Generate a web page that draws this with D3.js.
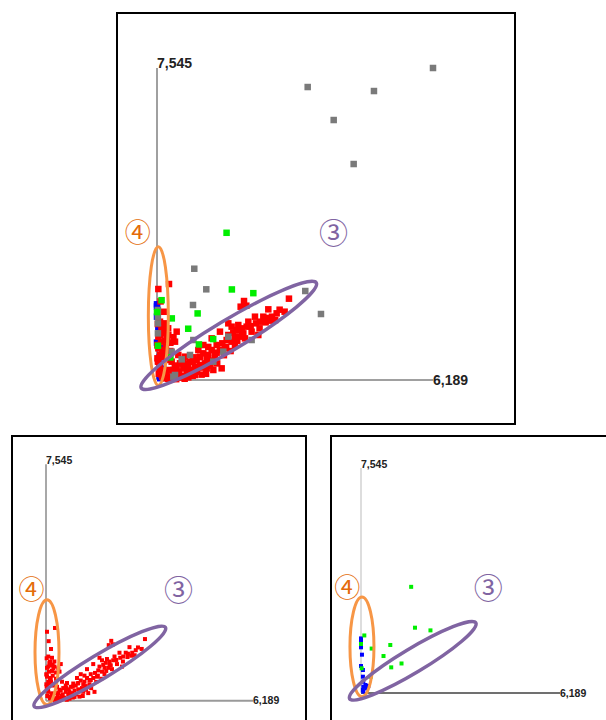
<!DOCTYPE html>
<html><head><meta charset="utf-8">
<script src="https://cdn.jsdelivr.net/npm/d3@7"></script>
<style>body{margin:0;background:#fff}svg{display:block}</style>
</head><body>
<svg id="c" width="606" height="720"></svg>
<script>
// ---- data ----
const xMax = 6189, yMax = 7545;
const xTickLabel = "6,189", yTickLabel = "7,545";

const redX = [2959,1951,2003,1876,2496,2862,2578,2548,2436,2309,2220,2048,2010,1898,1786,1711,1936,1861,1973,1599,2122,2272,1674,1562,1465,1525,1412,1338,1226,1151,1039,964,889,815,740,665,590,516,441,366,329,463,553,665,777,852,964,1076,1188,1300,1450,1263,1114,852,702,254,179,105,67,30,67,30,10,90,30,142,404,441,254,179,67,30,269,10,142,217,291,366,590,1039,1749,1412,1226,1599,1823,2197,2384,2683,1674,1338,927,628,478,1114,20,120,70,219,20,120,20,169,120,60,90,40,200,250,330,430,520,620,369,
  150,200,100,250,180,300,400,500,600,700,800,900,1000,1100,1200,1350,1500,1650,1800,1900,2100,2300,2450,2650,2750,1750,1550,1300,1150,950,350,450,800,1000,300,150,80,200];
const redY = [1967,1910,1797,1773,1709,1652,1531,1435,1394,1410,1370,1410,1290,1249,1209,1145,1128,1048,1007,1370,1169,1088,927,967,887,766,725,661,725,605,645,564,484,548,443,363,282,403,322,242,443,161,97,201,242,322,363,403,467,524,282,242,282,121,64,81,40,121,282,443,605,766,846,927,1048,1128,927,1169,1088,1370,1410,2200,2321,524,725,484,242,81,484,846,846,1169,1007,1088,1330,1531,1531,1612,1290,846,725,564,605,524,1354,1248,1088,1035,822,662,449,236,76,350,560,150,150,30,40,20,60,30,1035,
  600,800,1200,1250,950,700,350,200,400,300,450,200,300,150,350,400,600,700,950,1150,1300,1250,1500,1450,1700,1050,800,650,800,550,150,80,100,130,900,1650,1900,1150];

const grayX = [6189,3379,4865,3962,4410,836,1105,807,3325,3677,329,553,740,815,1263,1599,2122,1487,404,20,20,20,20,366];
const grayY = [7545,7085,6988,6287,5223,2691,2193,1814,2152,1596,685,500,605,967,443,1048,967,685,121,1693,1370,1128,1531,80];

const greenX = [1560,1679,2160,911,103,332,700,1260,940,301,0,20];
const greenY = [3560,2190,2100,1610,1930,1490,1240,990,860,547,1643,828];

const blueX = [0,0,30,0,60,60,72,140,72,176,60,72,227,0];
const blueY = [1777,1532,1285,905,771,547,379,268,211,156,100,44,235,1830];

const series = {
  red:   {x: redX,   y: redY,   color: "#ff0000"},
  gray:  {x: grayX,  y: grayY,  color: "#7a7a7a"},
  green: {x: greenX, y: greenY, color: "#00ee00"},
  blue:  {x: blueX,  y: blueY,  color: "#0000ff"}
};

// annotation anchors (data units)
const purpleCenter = [1609, 1079], purpleHalf = 2290;
const orangeCenter = [30, 1547], orangeHalf = 1675;
const labelFour = [-430, 3620], labelThree = [3960, 3600];

// ---- layout ----
const panels = [
  {frame:[117,13,398,411], x0:157, x1:433, y0:380, y1:68, pt:6.5, fs:14, fw:"bold",
   order:["blue","red","gray","green"], axX:"#a0a0a0", axY:"#a0a0a0", orx:10, pry:15},
  {frame:[12,436,294,300], x0:46, x1:253, y0:700.7, y1:464.3, pt:4, fs:10.5, fw:"600",
   order:["red"], axX:"#9a9a9a", axY:"#a8a8a8", orx:12, pry:12},
  {frame:[331,436,290,300], x0:361, x1:560, y0:693, y1:468, pt:4, fs:10.5, fw:"600",
   order:["blue","green"], axX:"#707070", axY:"#dddddd", orx:12, pry:12}
];

const svg = d3.select("#c");
svg.append("rect").attr("width",606).attr("height",720).attr("fill","#fff");

panels.forEach(p => {
  const g = svg.append("g");
  g.append("rect").attr("x",p.frame[0]).attr("y",p.frame[1])
    .attr("width",p.frame[2]).attr("height",p.frame[3])
    .attr("fill","#fff").attr("stroke","#000").attr("stroke-width",2);
  const xs = d3.scaleLinear().domain([0,xMax]).range([p.x0,p.x1]);
  const ys = d3.scaleLinear().domain([0,yMax]).range([p.y0,p.y1]);
  // axes
  g.append("line").attr("x1",xs(0)).attr("x2",xs(0)).attr("y1",ys(0)).attr("y2",ys(yMax))
    .attr("stroke",p.axY).attr("stroke-width",2);
  g.append("line").attr("x1",xs(0)).attr("x2",xs(xMax)).attr("y1",ys(0)).attr("y2",ys(0))
    .attr("stroke",p.axX).attr("stroke-width",2);
  g.append("text").attr("x",xs(0)).attr("y",ys(yMax)).text(yTickLabel)
    .attr("font-family","Liberation Sans, Arial, sans-serif").attr("font-size",p.fs)
    .attr("font-weight",p.fw).attr("fill","#222");
  g.append("text").attr("x",xs(xMax)).attr("y",ys(0)+p.fs*0.35).text(xTickLabel)
    .attr("font-family","Liberation Sans, Arial, sans-serif").attr("font-size",p.fs)
    .attr("font-weight",p.fw).attr("fill","#222");
  // points
  p.order.forEach(k => {
    const s = series[k];
    g.append("g").selectAll("rect").data(d3.range(s.x.length)).join("rect")
      .attr("x", i => xs(s.x[i]) - p.pt/2).attr("y", i => ys(s.y[i]) - p.pt/2)
      .attr("width", p.pt).attr("height", p.pt).attr("fill", s.color);
  });
  // orange ellipse
  g.append("ellipse").attr("cx",xs(orangeCenter[0])).attr("cy",ys(orangeCenter[1]))
    .attr("rx",p.orx).attr("ry",ys(0)-ys(orangeHalf))
    .attr("fill","none").attr("stroke","#f79646").attr("stroke-width",3);
  // purple ellipse
  const pcx = xs(purpleCenter[0]), pcy = ys(purpleCenter[1]);
  g.append("ellipse").attr("cx",pcx).attr("cy",pcy)
    .attr("rx",xs(purpleHalf)-xs(0)).attr("ry",p.pry)
    .attr("transform",`rotate(-31 ${pcx} ${pcy})`)
    .attr("fill","none").attr("stroke","#8064a2").attr("stroke-width",3.5);
  // labels
  g.append("text").attr("x",xs(labelFour[0])).attr("y",ys(labelFour[1])).text("④")
    .attr("text-anchor","middle").attr("dominant-baseline","central")
    .attr("font-family","Noto Sans CJK JP, DejaVu Sans").attr("font-size",26).attr("fill","#e46c0a");
  g.append("text").attr("x",xs(labelThree[0])).attr("y",ys(labelThree[1])).text("③")
    .attr("text-anchor","middle").attr("dominant-baseline","central")
    .attr("font-family","Noto Sans CJK JP, DejaVu Sans").attr("font-size",29).attr("fill","#8064a2");
});
</script>
</body></html>
